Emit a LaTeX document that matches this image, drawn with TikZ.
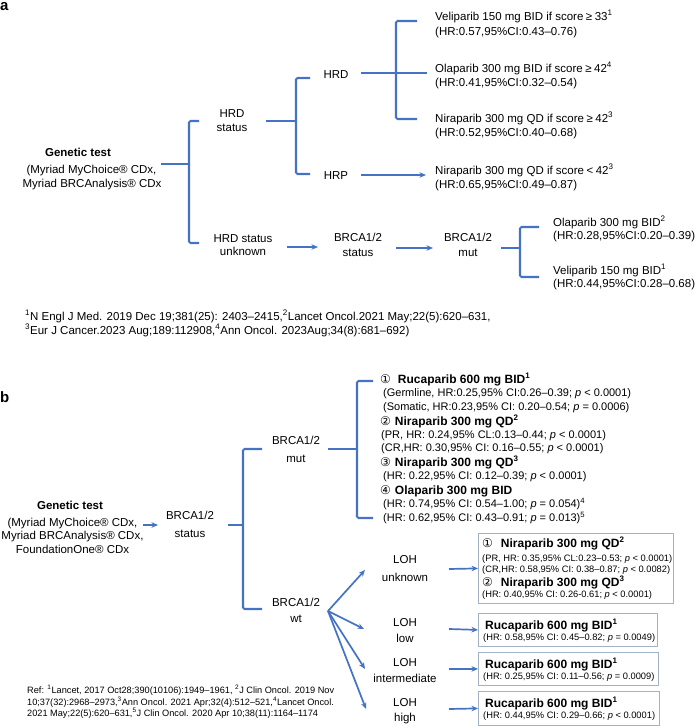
\documentclass[tikz,border=0pt]{standalone}
\usepackage{fontspec}
\setmainfont{Liberation Sans}
\newfontfamily\symfont{DejaVu Sans}
\usetikzlibrary{arrows.meta}
\definecolor{lineblue}{RGB}{68,114,196}
\definecolor{boxline}{RGB}{160,178,196}
\newcommand{\mygeq}{\hspace{2.5pt}≥\hspace{2.5pt}}
\newcommand{\myless}{\hspace{2.5pt}<\hspace{2.5pt}}
\begin{document}
\begin{tikzpicture}[x=1pt,y=-1pt,
  tx/.style={inner sep=0, anchor=base, font=\fontsize{11.5}{14}\selectfont, yshift=-4.1pt},
  txb/.style={tx, font=\fontsize{11.5}{14}\selectfont\bfseries},
  txl/.style={tx, anchor=base west},
  lst/.style={inner sep=0, anchor=base west, font=\fontsize{11}{13}\selectfont, yshift=-3.9pt},
  lstb/.style={inner sep=0, anchor=base west, font=\fontsize{12}{14}\selectfont\bfseries, yshift=-4.3pt},
  bxs/.style={inner sep=0, anchor=base west, font=\fontsize{9.3}{11}\selectfont, yshift=-3.3pt},
  refa/.style={inner sep=0, anchor=base west, font=\fontsize{11.5}{13}\selectfont, yshift=-4pt},
  refb/.style={inner sep=0, anchor=base west, font=\fontsize{9.2}{11}\selectfont, yshift=-3.3pt},
  panel/.style={inner sep=0, anchor=base west, font=\fontsize{15}{17}\selectfont\bfseries},
  brk/.style={draw=lineblue, line width=2.1pt, rounded corners=1.5pt},
  arr/.style={draw=lineblue, line width=1.7pt, -{Stealth[length=6.5pt,width=5.5pt]}},
  resbox/.style={draw=boxline, line width=0.8pt, inner sep=0, anchor=north west}
]
\useasboundingbox (0,0) rectangle (696,727);

% ================= panel a =================
\node[panel] (la) at (0,11) {a};

\node[txb] (ga1) at (78,152) {Genetic test};
\node[tx] (ga2) at (91.5,169) {(Myriad MyChoice® CDx,};
\node[tx] (ga3) at (92,183) {Myriad BRCAnalysis® CDx};

\node[tx] (hs1) at (232,113) {HRD};
\node[tx] (hs2) at (232,127) {status};
\node[tx] (hu1) at (243,238) {HRD status};
\node[tx] (hu2) at (243,251) {unknown};

\node[tx] (hrd) at (336,74) {HRD};
\node[tx] (hrp) at (336,175) {HRP};

\node[tx] (bs1) at (358,237) {BRCA1/2};
\node[tx] (bs2) at (358,252) {status};
\node[tx] (bm1) at (468,237) {BRCA1/2};
\node[tx] (bm2) at (468,252) {mut};

\node[txl] (t1a) at (435,16) {Veliparib 150 mg BID if score\mygeq 33\textsuperscript{1}};
\node[txl] (t1b) at (435,31) {(HR:0.57,95\%CI:0.43–0.76)};
\node[txl] (t2a) at (435,68) {Olaparib 300 mg BID if score\mygeq 42\textsuperscript{4}};
\node[txl] (t2b) at (435,82) {(HR:0.41,95\%CI:0.32–0.54)};
\node[txl] (t3a) at (435,118) {Niraparib 300 mg QD if score\mygeq 42\textsuperscript{3}};
\node[txl] (t3b) at (435,132) {(HR:0.52,95\%CI:0.40–0.68)};
\node[txl] (t4a) at (435,170) {Niraparib 300 mg QD if score\myless 42\textsuperscript{3}};
\node[txl] (t4b) at (435,184) {(HR:0.65,95\%CI:0.49–0.87)};
\node[txl] (t5a) at (553,222) {Olaparib 300 mg BID\textsuperscript{2}};
\node[txl] (t5b) at (553,235) {(HR:0.28,95\%CI:0.20–0.39)};
\node[txl] (t6a) at (553,270) {Veliparib 150 mg BID\textsuperscript{1}};
\node[txl] (t6b) at (553,283) {(HR:0.44,95\%CI:0.28–0.68)};

\node[refa] (ra1) at (25,316) {\textsuperscript{1}N Engl J Med. 2019 Dec 19;381(25): 2403–2415,\textsuperscript{2}Lancet Oncol.2021 May;22(5):620–631,};
\node[refa] (ra2) at (25,330) {\textsuperscript{3}Eur J Cancer.2023 Aug;189:112908,\textsuperscript{4}Ann Oncol. 2023Aug;34(8):681–692)};

% connector points, panel a
\coordinate (gaE) at (161,164); \coordinate (aV) at (189,164);
\coordinate (aT) at (199,121); \coordinate (aTc) at (189,121);
\coordinate (aB) at (199,243); \coordinate (aBc) at (189,243);
\coordinate (hsE) at (266,121); \coordinate (hV) at (296,121);
\coordinate (hT) at (310,78); \coordinate (hTc) at (296,78);
\coordinate (hB) at (310,174); \coordinate (hBc) at (296,174);
\coordinate (dT) at (417,21); \coordinate (dTc) at (396,21);
\coordinate (dB) at (417,119); \coordinate (dBc) at (396,119);
\coordinate (hrdE) at (361,73); \coordinate (dM) at (427,73);
\coordinate (hrpE) at (361,175); \coordinate (hrpT) at (426,175);
\coordinate (huE) at (287,247); \coordinate (bsW) at (318,247);
\coordinate (bsE) at (396,248); \coordinate (bmW) at (433,248);
\coordinate (bmE) at (501,248); \coordinate (mV) at (520,248);
\coordinate (mT) at (539,227); \coordinate (mTc) at (520,227);
\coordinate (mB) at (539,277); \coordinate (mBc) at (520,277);

\draw[brk] (gaE) -- (aV);
\draw[brk] (aT) -- (aTc) -- (aBc) -- (aB);
\draw[brk] (hsE) -- (hV);
\draw[brk] (hT) -- (hTc) -- (hBc) -- (hB);
\draw[brk] (dT) -- (dTc) -- (dBc) -- (dB);
\draw[brk] (hrdE) -- (dM);
\draw[arr] (hrpE) -- (hrpT);
\draw[arr] (huE) -- (bsW);
\draw[arr] (bsE) -- (bmW);
\draw[brk] (bmE) -- (mV);
\draw[brk] (mT) -- (mTc) -- (mBc) -- (mB);

% ================= panel b =================
\node[panel] (lb) at (0,402) {b};

\node[txb] (gb1) at (70,505) {Genetic test};
\node[tx] (gb2) at (72.5,522) {(Myriad MyChoice® CDx,};
\node[tx] (gb3) at (72.5,535) {Myriad BRCAnalysis® CDx,};
\node[tx] (gb4) at (72.5,549) {FoundationOne® CDx};

\node[tx] (bbs1) at (190,515) {BRCA1/2};
\node[tx] (bbs2) at (190,533) {status};
\node[tx] (bbm1) at (296,440) {BRCA1/2};
\node[tx] (bbm2) at (296,458) {mut};
\node[tx] (bbw1) at (296,602) {BRCA1/2};
\node[tx] (bbw2) at (296,618) {wt};

\node[lstb] (L0) at (380,379) {{\symfont\mdseries ①}\hspace{7pt}Rucaparib 600 mg BID\textsuperscript{1}};
\node[lst] (L1) at (383,393) {(Germline, HR:0.25,95\% CI:0.26–0.39; \textit{p} < 0.0001)};
\node[lst] (L2) at (383,407) {(Somatic, HR:0.23,95\% CI: 0.20–0.54; \textit{p} = 0.0006)};
\node[lstb] (L3) at (380,421) {{\symfont\mdseries ②}\hspace{4pt}Niraparib 300 mg QD\textsuperscript{2}};
\node[lst] (L4) at (381,435) {(PR, HR: 0.24,95\% CL:0.13–0.44; \textit{p} < 0.0001)};
\node[lst] (L5) at (381,448) {(CR,HR: 0.30,95\% CI: 0.16–0.55; \textit{p} < 0.0001)};
\node[lstb] (L6) at (380,462) {{\symfont\mdseries ③}\hspace{4pt}Niraparib 300 mg QD\textsuperscript{3}};
\node[lst] (L7) at (383,476) {(HR: 0.22,95\% CI: 0.12–0.39; \textit{p} < 0.0001)};
\node[lstb] (L8) at (380,490) {{\symfont\mdseries ④}\hspace{4pt}Olaparib 300 mg BID};
\node[lst] (L9) at (383,504) {(HR: 0.74,95\% CI: 0.54–1.00; \textit{p} = 0.054)\textsuperscript{4}};
\node[lst] (L10) at (383,518) {(HR: 0.62,95\% CI: 0.43–0.91; \textit{p} = 0.013)\textsuperscript{5}};

\node[tx] (l1a) at (405,559) {LOH};
\node[tx] (l1b) at (405,577) {unknown};
\node[tx] (l2a) at (405,622) {LOH};
\node[tx] (l2b) at (405,638) {low};
\node[tx] (l3a) at (405,662) {LOH};
\node[tx] (l3b) at (405,678) {intermediate};
\node[tx] (l4a) at (405,702) {LOH};
\node[tx] (l4b) at (405,717) {high};

\node[resbox, minimum width=195pt, minimum height=70pt] (box1) at (478,533) {};
\node[resbox, minimum width=179pt, minimum height=33pt] (box2) at (478,613) {};
\node[resbox, minimum width=180pt, minimum height=33pt] (box3) at (478,652) {};
\node[resbox, minimum width=181pt, minimum height=34pt] (box4) at (478,691) {};

\node[lstb] (b1t1) at (482,543) {{\symfont\mdseries ①}\hspace{8pt}Niraparib 300 mg QD\textsuperscript{2}};
\node[bxs] (b1l1) at (482,558) {(PR, HR: 0.35,95\% CL:0.23–0.53; \textit{p} < 0.0001)};
\node[bxs] (b1l2) at (482,569) {(CR,HR: 0.58,95\% CI: 0.38–0.87; \textit{p} < 0.0082)};
\node[lstb] (b1t2) at (482,582) {{\symfont\mdseries ②}\hspace{8pt}Niraparib 300 mg QD\textsuperscript{3}};
\node[bxs] (b1l3) at (482,594) {(HR: 0.40,95\% CI: 0.26-0.61; \textit{p} < 0.0001)};

\node[lstb] (b2t) at (485,625) {Rucaparib 600 mg BID\textsuperscript{1}};
\node[bxs] (b2l) at (483,637) {(HR: 0.58,95\% CI: 0.45–0.82; \textit{p} = 0.0049)};
\node[lstb] (b3t) at (485,664) {Rucaparib 600 mg BID\textsuperscript{1}};
\node[bxs] (b3l) at (483,676) {(HR: 0.25,95\% CI: 0.11–0.56; \textit{p} = 0.0009)};
\node[lstb] (b4t) at (485,703) {Rucaparib 600 mg BID\textsuperscript{1}};
\node[bxs] (b4l) at (483,715) {(HR: 0.44,95\% CI: 0.29–0.66; \textit{p} < 0.0001)};

\node[refb] (rb1) at (27,690) {Ref: \textsuperscript{1}Lancet, 2017 Oct28;390(10106):1949–1961, \textsuperscript{2}J Clin Oncol. 2019 Nov};
\node[refb] (rb2) at (27,702) {10;37(32):2968–2973,\textsuperscript{3}Ann Oncol. 2021 Apr;32(4):512–521,\textsuperscript{4}Lancet Oncol.};
\node[refb] (rb3) at (27,713) {2021 May;22(5):620–631,\textsuperscript{5}J Clin Oncol. 2020 Apr 10;38(11):1164–1174};

% connector points, panel b
\coordinate (gbE) at (143,525); \coordinate (bbsW) at (158,525);
\coordinate (bbsE) at (228,525); \coordinate (sV) at (243,525);
\coordinate (sT) at (262,449); \coordinate (sTc) at (243,449);
\coordinate (sB) at (262,609); \coordinate (sBc) at (243,609);
\coordinate (bbmE) at (328,449); \coordinate (uV) at (357,449);
\coordinate (uT) at (373,381); \coordinate (uTc) at (357,381);
\coordinate (uB) at (373,518); \coordinate (uBc) at (357,518);
\coordinate (wtO) at (328,611);
\coordinate (f1) at (365,570); \coordinate (f2) at (364,629);
\coordinate (f3) at (365,669); \coordinate (f4) at (366,709);
\coordinate (la1) at (449,569); \coordinate (la2) at (449,629);
\coordinate (la3) at (449,669); \coordinate (la4) at (449,709);

\draw[arr] (gbE) -- (bbsW);
\draw[brk] (bbsE) -- (sV);
\draw[brk] (sT) -- (sTc) -- (sBc) -- (sB);
\draw[brk] (bbmE) -- (uV);
\draw[brk] (uT) -- (uTc) -- (uBc) -- (uB);
\draw[arr] (wtO) -- (f1);
\draw[arr] (wtO) -- (f2);
\draw[arr] (wtO) -- (f3);
\draw[arr] (wtO) -- (f4);
\draw[arr] (la1) -- (box1.west);
\draw[arr] (la2) -- (box2.west);
\draw[arr] (la3) -- (box3.west);
\draw[arr] (la4) -- (box4.west);
\end{tikzpicture}
\end{document}
